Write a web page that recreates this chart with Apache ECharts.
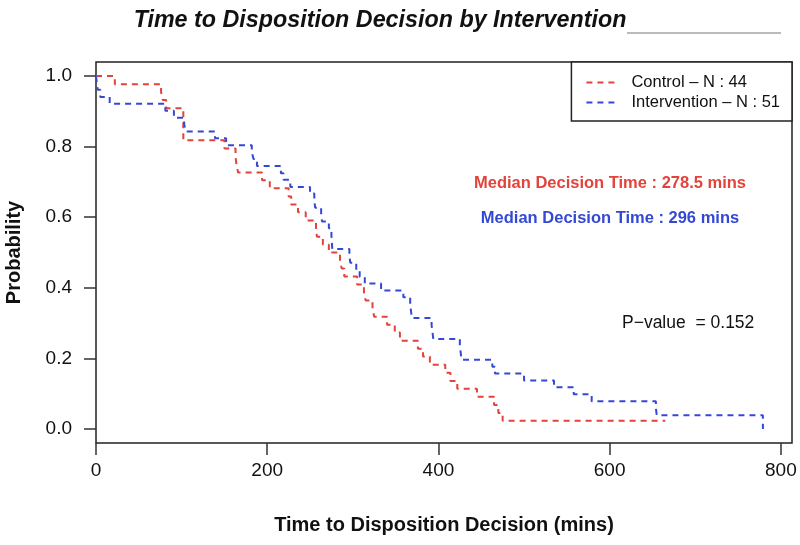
<!DOCTYPE html>
<html>
<head>
<meta charset="utf-8">
<script src="https://cdn.jsdelivr.net/npm/echarts@6/dist/echarts.min.js"></script>
<style>
html,body{margin:0;padding:0;background:#fff;}
#chart{width:800px;height:545px;}
</style>
</head>
<body>
<div id="chart"></div>
<script>
// ---- Data ----
const controlName = 'Control \u2013 N : 44';
const interventionName = 'Intervention \u2013 N : 51';
const controlTime = [0, 22, 76, 78, 82, 102, 150, 163, 164, 166, 194, 203, 225, 228, 236, 245, 257, 258, 265, 272, 285, 287, 290, 305, 313, 315, 323, 325, 340, 349, 355, 376, 382, 390, 408, 414, 422, 445, 465, 470, 475, 665];
const controlSurv = [1.000, 0.977, 0.955, 0.932, 0.909, 0.818, 0.795, 0.773, 0.750, 0.727, 0.705, 0.682, 0.659, 0.636, 0.614, 0.591, 0.568, 0.545, 0.523, 0.500, 0.477, 0.455, 0.432, 0.409, 0.386, 0.364, 0.341, 0.318, 0.295, 0.273, 0.250, 0.227, 0.205, 0.182, 0.159, 0.136, 0.114, 0.091, 0.068, 0.045, 0.023, 0.023];
const interventionTime = [0, 1, 2, 5, 16, 81, 91, 103, 105, 139, 152, 182, 184, 188, 216, 219, 227, 250, 255, 256, 263, 264, 272, 275, 275.5, 276, 296, 297, 304, 308, 314, 333, 359, 367, 368, 369, 392, 393, 394, 425, 426, 427, 463, 466, 500, 535, 558, 579, 654, 655, 779];
const interventionSurv = [1.000, 0.980, 0.961, 0.941, 0.922, 0.902, 0.882, 0.863, 0.843, 0.824, 0.804, 0.784, 0.765, 0.745, 0.725, 0.706, 0.686, 0.667, 0.647, 0.627, 0.608, 0.588, 0.569, 0.549, 0.529, 0.510, 0.490, 0.471, 0.451, 0.431, 0.412, 0.392, 0.373, 0.353, 0.333, 0.314, 0.294, 0.275, 0.255, 0.235, 0.216, 0.196, 0.176, 0.157, 0.137, 0.118, 0.098, 0.078, 0.059, 0.039, 0.000];
const xTicks = [0, 200, 400, 600, 800];
const yTicks = [0, 0.2, 0.4, 0.6, 0.8, 1.0];
const titleText = 'Time to Disposition Decision by Intervention';
const xTitle = 'Time to Disposition Decision (mins)';
const yTitle = 'Probability';
const medianControl = 'Median Decision Time : 278.5 mins';
const medianIntervention = 'Median Decision Time : 296 mins';
const pValueText = 'P\u2212value  = 0.152';

const RED = '#e2433b';
const BLUE = '#3448d6';
const FONT = '"Liberation Sans", Arial, Helvetica, sans-serif';

const zip = (a, b) => a.map((v, i) => [v, b[i]]);

const chart = echarts.init(document.getElementById('chart'), null, {renderer: 'canvas'});
chart.setOption({
  animation: false,
  backgroundColor: '#fff',
  textStyle: {fontFamily: FONT},
  title: {
    text: titleText,
    left: 375, top: 4, textAlign: 'center',
    textStyle: {fontFamily: FONT, fontSize: 23.3, fontWeight: 'bold', fontStyle: 'italic', color: '#111'}
  },
  grid: {
    left: 96, right: 8, top: 62, bottom: 102,
    containLabel: false, outerBoundsMode: 'none',
    show: true, borderColor: '#222', borderWidth: 1.5, backgroundColor: 'transparent'
  },
  legend: {
    orient: 'vertical', right: 8, top: 62,
    padding: [12, 12, 10, 14],
    itemWidth: 32, itemHeight: 12, itemGap: 3,
    borderColor: '#222', borderWidth: 1.5,
    backgroundColor: '#fff',
    itemStyle: {opacity: 0},
    textStyle: {fontFamily: FONT, fontSize: 16.5, color: '#111', padding: [0, 0, 0, 8]},
    data: [controlName, interventionName]
  },
  xAxis: {
    type: 'value', min: 0, max: 813,
    name: xTitle, nameLocation: 'middle', nameGap: 72,
    nameTextStyle: {fontFamily: FONT, fontSize: 20, fontWeight: 'bold', color: '#111'},
    axisLine: {show: false, onZero: false},
    splitLine: {show: false},
    axisTick: {show: true, length: 12, customValues: xTicks, lineStyle: {color: '#333', width: 1.5}},
    axisLabel: {customValues: xTicks, margin: 18, fontFamily: FONT, fontSize: 19, color: '#111'}
  },
  yAxis: {
    type: 'value', min: -0.04, max: 1.04,
    name: yTitle, nameLocation: 'middle', nameGap: 72,
    nameTextStyle: {fontFamily: FONT, fontSize: 20, fontWeight: 'bold', color: '#111'},
    axisLine: {show: false, onZero: false},
    splitLine: {show: false},
    axisTick: {show: true, length: 12, customValues: yTicks, lineStyle: {color: '#333', width: 1.5}},
    axisLabel: {customValues: yTicks, margin: 24, fontFamily: FONT, fontSize: 19, color: '#111',
      formatter: v => v.toFixed(1)}
  },
  series: [
    {
      name: controlName, type: 'line', step: 'end', symbol: 'none',
      data: zip(controlTime, controlSurv),
      color: RED,
      lineStyle: {color: RED, width: 2, type: [6, 5]}
    },
    {
      name: interventionName, type: 'line', step: 'end', symbol: 'none',
      data: zip(interventionTime, interventionSurv),
      color: BLUE,
      lineStyle: {color: BLUE, width: 2, type: [6, 5]}
    }
  ],
  graphic: [
    {type: 'line', shape: {x1: 627, y1: 33, x2: 781, y2: 33}, style: {stroke: '#bbbbbb', lineWidth: 2}},
    {type: 'text', x: 610, y: 183, style: {text: medianControl, fill: RED, font: 'bold 16.5px ' + FONT, textAlign: 'center', textVerticalAlign: 'middle'}},
    {type: 'text', x: 610, y: 218, style: {text: medianIntervention, fill: BLUE, font: 'bold 16.5px ' + FONT, textAlign: 'center', textVerticalAlign: 'middle'}},
    {type: 'text', x: 622, y: 323, style: {text: pValueText, fill: '#111', font: '17.5px ' + FONT, textAlign: 'left', textVerticalAlign: 'middle'}}
  ]
});
</script>
</body>
</html>
